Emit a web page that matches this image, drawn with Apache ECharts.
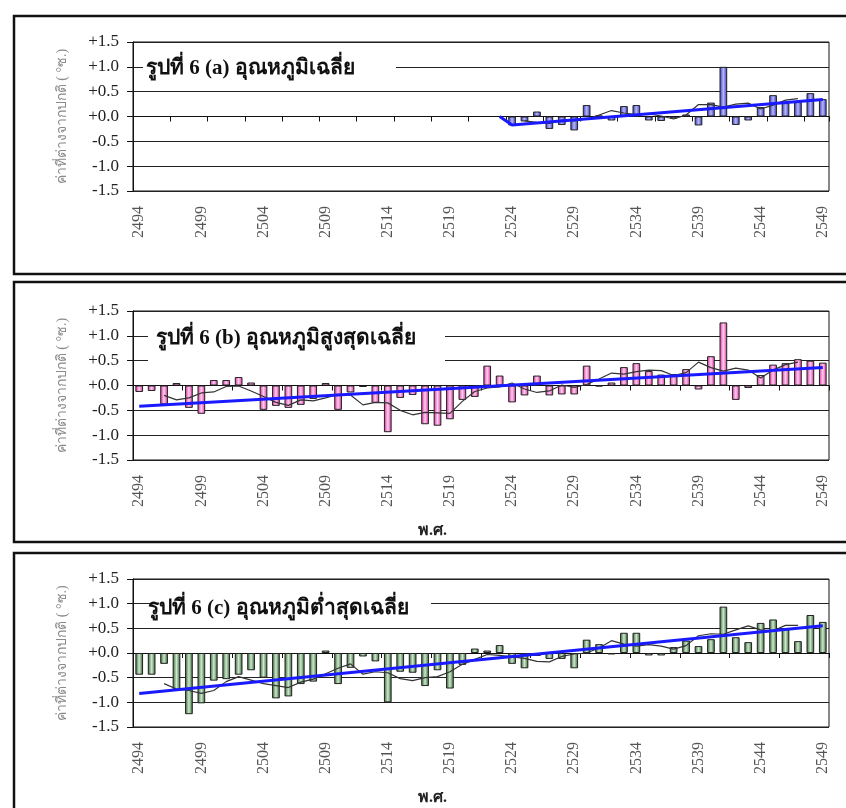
<!DOCTYPE html>
<html>
<head>
<meta charset="utf-8">
<script src="https://cdn.jsdelivr.net/npm/echarts@6/dist/echarts.min.js"></script>
<style>
html,body{margin:0;padding:0;background:#fff;}
#chart{width:846px;height:808px;}
</style>
</head>
<body>
<div id="chart"></div>
<script>
// ---- data ----
const years = ['2494','2495','2496','2497','2498','2499','2500','2501','2502','2503',
  '2504','2505','2506','2507','2508','2509','2510','2511','2512','2513',
  '2514','2515','2516','2517','2518','2519','2520','2521','2522','2523',
  '2524','2525','2526','2527','2528','2529','2530','2531','2532','2533',
  '2534','2535','2536','2537','2538','2539','2540','2541','2542','2543',
  '2544','2545','2546','2547','2548','2549'];

const yTicks = [-1.5, -1.0, -0.5, 0.0, 0.5, 1.0, 1.5];

const titleA = 'รูปที่ 6 (a) อุณหภูมิเฉลี่ย';
const titleB = 'รูปที่ 6 (b) อุณหภูมิสูงสุดเฉลี่ย';
const titleC = 'รูปที่ 6 (c) อุณหภูมิต่ำสุดเฉลี่ย';
const yName = 'ค่าที่ต่างจากปกติ ( °ซ.)';
const xName = 'พ.ศ.';

// (a) mean temperature anomaly
const barsA = [null,null,null,null,null,null,null,null,null,null,
  null,null,null,null,null,null,null,null,null,null,
  null,null,null,null,null,null,null,null,null,null,
  -0.18,-0.10,0.10,-0.25,-0.17,-0.28,0.23,0.02,-0.08,0.21,
  0.23,-0.08,-0.09,-0.04,0.04,-0.18,0.28,1.00,-0.17,-0.08,
  0.19,0.43,0.27,0.29,0.47,0.35];
const maA = [null,null,null,null,null,null,null,null,null,null,
  null,null,null,null,null,null,null,null,null,null,
  null,null,null,null,null,null,null,null,null,null,
  null,-0.09,-0.12,-0.14,-0.07,-0.09,-0.05,0.03,0.12,0.07,
  0.04,0.05,0.01,-0.05,0.03,0.24,0.24,0.19,0.25,0.27,
  0.15,0.23,0.33,0.36,null,null];
const trendA = [['2523',0.00],['2524',-0.17],['2549',0.34]];

// (b) mean maximum temperature anomaly
const barsB = [-0.13,-0.11,-0.38,0.05,-0.45,-0.57,0.11,0.11,0.17,0.06,
  -0.49,-0.41,-0.45,-0.39,-0.27,0.05,-0.49,-0.14,-0.03,-0.35,
  -0.94,-0.25,-0.19,-0.78,-0.81,-0.68,-0.29,-0.23,0.40,0.20,
  -0.34,-0.20,0.20,-0.20,-0.18,-0.18,0.40,-0.02,0.06,0.37,
  0.45,0.29,0.22,0.23,0.33,-0.08,0.59,1.27,-0.29,-0.05,
  0.21,0.42,0.45,0.53,0.50,0.46];
const maB = [null,null,-0.20,-0.29,-0.25,-0.15,-0.13,-0.02,-0.01,-0.11,
  -0.22,-0.34,-0.40,-0.29,-0.31,-0.25,-0.18,-0.19,-0.39,-0.34,
  -0.35,-0.50,-0.59,-0.54,-0.55,-0.56,-0.32,-0.12,-0.05,-0.03,
  0.05,-0.07,-0.14,-0.11,0.01,-0.04,0.02,0.13,0.25,0.23,
  0.28,0.31,0.30,0.20,0.26,0.47,0.36,0.29,0.35,0.31,
  0.15,0.31,0.42,0.47,null,null];
const trendB = [['2494',-0.42],['2549',0.36]];

// (c) mean minimum temperature anomaly
const barsC = [-0.44,-0.44,-0.22,-0.75,-1.24,-1.02,-0.56,-0.53,-0.44,-0.35,
  -0.50,-0.92,-0.88,-0.63,-0.58,0.05,-0.63,-0.30,-0.07,-0.17,
  -1.00,-0.38,-0.40,-0.67,-0.35,-0.72,-0.24,0.09,0.05,0.16,
  -0.22,-0.31,-0.06,-0.12,-0.12,-0.31,0.27,0.18,-0.03,0.41,
  0.41,-0.05,-0.05,0.12,0.25,0.14,0.28,0.94,0.32,0.22,
  0.61,0.68,0.50,0.24,0.77,0.63];
const maC = [null,null,-0.62,-0.73,-0.76,-0.82,-0.76,-0.58,-0.48,-0.55,
  -0.62,-0.66,-0.70,-0.59,-0.53,-0.42,-0.31,-0.22,-0.43,-0.38,
  -0.40,-0.52,-0.56,-0.50,-0.48,-0.38,-0.23,-0.13,-0.03,-0.05,
  -0.08,-0.11,-0.17,-0.18,-0.07,-0.02,0.00,0.10,0.25,0.18,
  0.14,0.17,0.14,0.08,0.15,0.35,0.39,0.38,0.47,0.55,
  0.47,0.45,0.56,0.56,null,null];
const trendC = [['2494',-0.82],['2549',0.55]];

// ---- chart ----
const chart = echarts.init(document.getElementById('chart'), null, {renderer:'canvas'});
const SERIF = '"Liberation Serif","DejaVu Serif","Times New Roman",serif';
const THAI = '"Liberation Serif","DejaVu Serif","DejaVu Sans","Noto Sans",serif';

const panels = [
  {top:42, height:149, bars:barsA, ma:maA, trend:trendA, tickInt:2,
   c0:'#2f2fc8', c1:'#b8b8f4'},
  {top:311, height:149, bars:barsB, ma:maB, trend:trendB, tickInt:3,
   c0:'#e0279f', c1:'#fbd0ee'},
  {top:579, height:148, bars:barsC, ma:maC, trend:trendC, tickInt:3,
   c0:'#2a5e2a', c1:'#cfe8cf'}
];

const grid = [], xAxis = [], yAxis = [], series = [];
panels.forEach((p, k) => {
  grid.push({left:133, width:696, top:p.top, height:p.height, show:true,
    borderColor:'#111', borderWidth:1, backgroundColor:'transparent'});
  xAxis.push({type:'category', gridIndex:k, data:years, position:'bottom',
    boundaryGap:true,
    axisLine:{show:false, onZero:false}, axisTick:{show:false},
    axisLabel:{interval:4, rotate:90, margin:15, color:'#555',
      fontFamily:SERIF, fontSize:16},
    splitLine:{show:false}});
  xAxis.push({type:'category', gridIndex:k, data:years, position:'bottom',
    boundaryGap:true,
    axisLine:{show:true, onZero:true, lineStyle:{color:'#111', width:1.2}},
    axisTick:{show:true, interval:p.tickInt, length:5, inside:false,
      lineStyle:{color:'#111'}},
    axisLabel:{show:false}, splitLine:{show:false}});
  yAxis.push({type:'value', gridIndex:k, min:-1.5, max:1.5, interval:0.5,
    name:yName, nameLocation:'middle', nameGap:64,
    nameTextStyle:{color:'#8a8a8a', fontSize:14, fontFamily:THAI},
    axisLine:{show:true, onZero:false, lineStyle:{color:'#111'}},
    axisTick:{show:true, length:6, lineStyle:{color:'#111'}},
    axisLabel:{color:'#222', fontFamily:SERIF, fontSize:17, margin:14,
      formatter:v => (v >= 0 ? '+' : '') + v.toFixed(1)},
    splitLine:{show:true, lineStyle:{color:'#222', width:1.2}}});
  series.push({type:'bar', xAxisIndex:2*k, yAxisIndex:k, data:p.bars,
    barWidth:'62%', z:2,
    itemStyle:{borderColor:'#222', borderWidth:1,
      color:new echarts.graphic.LinearGradient(0,0,1,0,[
        {offset:0, color:p.c0},{offset:0.5, color:p.c1},{offset:1, color:p.c0}])}});
  series.push({type:'line', xAxisIndex:2*k, yAxisIndex:k, data:p.ma,
    showSymbol:false, symbol:'none', z:3,
    lineStyle:{color:'#333', width:1.2}});
  series.push({type:'line', xAxisIndex:2*k, yAxisIndex:k, data:p.trend,
    showSymbol:false, symbol:'none', connectNulls:true, z:4,
    lineStyle:{color:'#1a1aff', width:3}});
});

const graphic = [
  {type:'rect', shape:{x:14, y:16, width:840, height:258}, z:0,
   style:{fill:null, stroke:'#111', lineWidth:2.5}},
  {type:'rect', shape:{x:14, y:282, width:840, height:260}, z:0,
   style:{fill:null, stroke:'#111', lineWidth:2.5}},
  {type:'rect', shape:{x:14, y:553, width:840, height:262}, z:0,
   style:{fill:null, stroke:'#111', lineWidth:2.5}},
  // title boxes (white, hide grid lines behind the titles)
  {type:'rect', shape:{x:143, y:55, width:253, height:27}, z:50,
   style:{fill:'#fff', stroke:null}},
  {type:'rect', shape:{x:148, y:324, width:297, height:39}, z:50,
   style:{fill:'#fff', stroke:null}},
  {type:'rect', shape:{x:151, y:592, width:280, height:28}, z:50,
   style:{fill:'#fff', stroke:null}},
  {type:'text', left:146, top:58, z:60,
   style:{text:titleA, font:'bold 21px ' + THAI, fill:'#111'}},
  {type:'text', left:156, top:328, z:60,
   style:{text:titleB, font:'bold 21px ' + THAI, fill:'#111'}},
  {type:'text', left:148, top:598, z:60,
   style:{text:titleC, font:'bold 21px ' + THAI, fill:'#111'}},
  {type:'text', left:418, top:523, z:60,
   style:{text:xName, font:'bold 16px ' + THAI, fill:'#222'}},
  {type:'text', left:418, top:790, z:60,
   style:{text:xName, font:'bold 16px ' + THAI, fill:'#222'}}
];

chart.setOption({animation:false, backgroundColor:'#fff',
  grid, xAxis, yAxis, series, graphic});
</script>
</body>
</html>
